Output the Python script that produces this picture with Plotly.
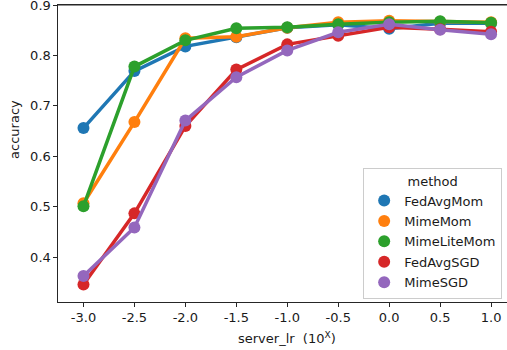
import plotly.graph_objects as go

server_lr = [-3.0, -2.5, -2.0, -1.5, -1.0, -0.5, 0.0, 0.5, 1.0]
tick_labels = ["-3.0", "-2.5", "-2.0", "-1.5", "-1.0", "-0.5", "0.0", "0.5", "1.0"]
y_ticks = [0.4, 0.5, 0.6, 0.7, 0.8, 0.9]

methods = ["FedAvgMom", "MimeMom", "MimeLiteMom", "FedAvgSGD", "MimeSGD"]
fedavgmom = [0.656, 0.769, 0.818, 0.836, 0.855, 0.861, 0.853, 0.864, 0.864]
mimemom = [0.507, 0.668, 0.834, 0.837, 0.855, 0.866, 0.869, 0.867, 0.866]
mimelitemom = [0.501, 0.778, 0.830, 0.854, 0.856, 0.862, 0.866, 0.868, 0.865]
fedavgsgd = [0.346, 0.487, 0.660, 0.772, 0.822, 0.839, 0.856, 0.852, 0.847]
mimesgd = [0.363, 0.459, 0.671, 0.757, 0.810, 0.846, 0.862, 0.851, 0.842]

series = [fedavgmom, mimemom, mimelitemom, fedavgsgd, mimesgd]
colors = ["#1f77b4", "#ff7f0e", "#2ca02c", "#d62728", "#9467bd"]

fig = go.Figure()
for name, vals, c in zip(methods, series, colors):
    fig.add_trace(go.Scatter(
        x=server_lr, y=vals, mode="lines+markers", name=name,
        line=dict(color=c, width=3.5), marker=dict(color=c, size=12),
        showlegend=False, hoverinfo="skip", cliponaxis=False))
for name, c in zip(methods, colors):
    fig.add_trace(go.Scatter(
        x=[None], y=[None], mode="markers", name=name, legendgroup=name,
        marker=dict(color=c, size=12), showlegend=True))

W, H = 507, 350
L, R, T, B = 57.5, 0, 5, 47.7
PW, PH = W - L - R, H - T - B
px_per_unit = 50.97 / 0.5
x0 = server_lr[0] - 0.25
x1 = server_lr[0] + (W - R - 83.3) / px_per_unit

font = "DejaVu Sans"
fs = 13
fig.update_layout(
    width=W, height=H,
    margin=dict(l=L, r=R, t=T, b=B, pad=0),
    paper_bgcolor="white", plot_bgcolor="white",
    font=dict(family=font, size=fs, color="#1a1a1a"),
    xaxis=dict(range=[x0, x1], tickvals=server_lr, ticktext=tick_labels,
               showgrid=False, zeroline=False, showline=True, linecolor="#262626",
               linewidth=1.2, mirror=True, ticks="outside", ticklen=3.5, tickwidth=1,
               tickcolor="#262626", tickfont=dict(size=fs), automargin=False,
               ticklabeloverflow="allow"),
    yaxis=dict(range=[0.3113, 0.90005], tickvals=y_ticks, tickformat=".1f",
               showgrid=False, zeroline=False, showline=True, linecolor="#262626",
               linewidth=1.2, mirror=False, ticks="outside", ticklen=3.5, tickwidth=1,
               tickcolor="#262626", tickfont=dict(size=fs), automargin=False,
               ticklabeloverflow="allow"),
    legend=dict(x=(363 - L) / PW, y=(302.3 - 299) / PH,
                xanchor="left", yanchor="bottom",
                bgcolor="white", bordercolor="#cccccc", borderwidth=1,
                font=dict(size=fs), tracegroupgap=0.5,
                title=dict(text="method", side="top center", font=dict(size=fs))),
    showlegend=True,
    shapes=[dict(type="line", xref="paper", yref="paper", x0=0, x1=1, y0=1, y1=1,
                 line=dict(color="#262626", width=1.2), layer="above")],
    annotations=[
        dict(text="server_lr  (10<sup>X</sup>)", xref="paper", yref="paper",
             x=(287 - L) / PW, y=-(338 - 302.3) / PH, showarrow=False,
             xanchor="center", yanchor="middle", font=dict(size=fs)),
        dict(text="accuracy", xref="paper", yref="paper",
             x=(14.5 - L) / PW, y=(302.3 - 130) / PH, showarrow=False, textangle=-90,
             xanchor="center", yanchor="middle", font=dict(size=fs)),
    ],
)
fig.write_html("out.html", config={"displayModeBar": False},
               post_script="document.body.style.margin='0';document.body.style.overflow='hidden';")
